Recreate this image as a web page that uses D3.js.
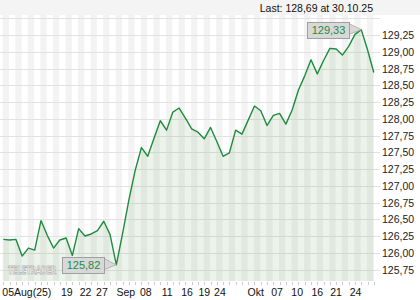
<!DOCTYPE html>
<html>
<head>
<meta charset="utf-8">
<script src="https://cdn.jsdelivr.net/npm/d3@7"></script>
<style>
  html, body { margin: 0; padding: 0; background: #ffffff; }
  svg { display: block; font-family: "Liberation Sans", Arial, sans-serif; }
</style>
</head>
<body>
<svg id="chart" width="420" height="300"></svg>
<script>
// ---- data ----
const prices = [
  126.20, 126.19, 126.20, 125.95, 126.07, 126.04, 126.48, 126.26, 126.07, 126.19,
  126.22, 125.96, 126.36, 126.25, 126.28, 126.33, 126.47, 126.27, 125.82, 126.29,
  126.79, 127.23, 127.57, 127.44, 127.71, 127.97, 127.83, 128.10, 128.16, 128.01,
  127.85, 127.80, 127.70, 127.87, 127.66, 127.44, 127.49, 127.83, 127.77, 127.98,
  128.19, 128.12, 127.90, 128.05, 128.08, 127.92, 128.13, 128.43, 128.64, 128.88,
  128.67, 128.87, 129.05, 129.04, 128.95, 129.08, 129.26, 129.33, 129.03, 128.69
];
const xTickLabels = ["05Aug(25)", "19", "22", "27", "Sep", "08", "11", "16", "19", "24",
                     "Okt", "07", "10", "16", "21", "24"];
const xTickPos = [0, 10.1, 13.1, 15.7, 19.5, 22.7, 26.1, 29.25, 32, 34.5,
                  40.2, 43.6, 46.8, 50, 53, 56.1];
const yTickValues = [125.75, 126.00, 126.25, 126.50, 126.75, 127.00, 127.25, 127.50,
                     127.75, 128.00, 128.25, 128.50, 128.75, 129.00, 129.25];
const yGridValues = yTickValues.concat([129.50]);
const lastText = "Last: 128,69 at 30.10.25";
const minLabel = "125,82";
const maxLabel = "129,33";

// ---- layout ----
const svg = d3.select("#chart");
const plotLeft = 0, plotRight = 376, plotTop = 15, plotBottom = 281;
const x = d3.scaleLinear().domain([0, prices.length - 1]).range([3.3, 373.8]);
const y = d3.scaleLinear().domain([125.75, 129.25]).range([269.5, 35]);
const fmt = v => d3.format(".2f")(v).replace(".", ",");

// header band
svg.append("rect").attr("x", 0).attr("y", 0).attr("width", 420).attr("height", plotTop)
  .attr("fill", "#f4f4f4");
svg.append("text").attr("x", 373).attr("y", 11.5).attr("text-anchor", "end")
  .attr("font-size", 10.5).attr("fill", "#111").text(lastText);

// striped background (one column per data point)
const stripes = svg.append("g");
stripes.selectAll("rect").data(d3.range(0, prices.length, 2)).join("rect")
  .attr("x", d => x(d) - 0.6)
  .attr("y", plotTop)
  .attr("width", x(1) - x(0))
  .attr("height", plotBottom - plotTop)
  .attr("fill", "#f3f3f3");

// horizontal grid lines
svg.append("g").selectAll("line").data(yGridValues).join("line")
  .attr("x1", plotLeft).attr("x2", 380)
  .attr("y1", d => Math.round(y(d)) + 0.5).attr("y2", d => Math.round(y(d)) + 0.5)
  .attr("stroke", "#e2e2e2").attr("stroke-width", 1);

// right axis labels
svg.append("g").selectAll("text").data(yTickValues).join("text")
  .attr("x", 382).attr("y", d => Math.round(y(d)) + 0.5)
  .attr("dy", "0.35em")
  .attr("font-size", 10.5).attr("fill", "#222")
  .text(d => fmt(d));

// bottom small ticks (one per data point)
svg.append("g").selectAll("line").data(d3.range(prices.length)).join("line")
  .attr("x1", d => Math.round(x(d)) + 0.5).attr("x2", d => Math.round(x(d)) + 0.5)
  .attr("y1", plotBottom + 1).attr("y2", plotBottom + 4)
  .attr("stroke", "#cccccc");

// bottom labels
svg.append("g").selectAll("text").data(xTickLabels).join("text")
  .attr("x", (d, i) => i === 0 ? x(xTickPos[i]) - 1 : x(xTickPos[i]))
  .attr("y", 296)
  .attr("text-anchor", (d, i) => i === 0 ? "start" : "middle")
  .attr("font-size", 10.5).attr("fill", "#111")
  .text(d => d);

// area + line
svg.append("clipPath").attr("id", "plotclip").append("rect")
  .attr("x", plotLeft).attr("y", plotTop).attr("width", plotRight - plotLeft).attr("height", plotBottom - plotTop);
const area = d3.area().x((d, i) => x(i)).y0(plotBottom).y1(d => y(d));
const line = d3.line().x((d, i) => x(i)).y(d => y(d));
svg.append("path").datum(prices).attr("d", area)
  .attr("fill", "rgb(60,140,60)").attr("fill-opacity", 0.1)
  .attr("clip-path", "url(#plotclip)");
svg.append("path").datum(prices).attr("d", line)
  .attr("fill", "none").attr("stroke", "#1e8c3c").attr("stroke-width", 1.4)
  .attr("stroke-linejoin", "round");

// watermark logo (small, stretched vertically)
svg.append("text")
  .attr("transform", "translate(8,274) scale(1,1.45)")
  .attr("font-family", "DejaVu Sans, sans-serif").attr("font-weight", "bold")
  .attr("font-size", 7).attr("letter-spacing", -0.2)
  .attr("fill", "#ffffff").attr("stroke", "#b8b8b8").attr("stroke-width", 0.6)
  .text("TELETRADER");

// min / max callouts
function callout(idx, label) {
  const tx = x(idx), ty = y(prices[idx]);
  const bw = 42, bh = 16;
  const bx = tx - 12 - bw, by = ty - bh / 2;
  const g = svg.append("g");
  g.append("path")
    .attr("d", `M${bx + bw - 1},${by + 1.5} L${tx},${ty} L${bx + bw - 1},${by + bh - 3} Z`)
    .attr("fill", "#d8d8d8").attr("stroke", "#a8a8a8").attr("stroke-width", 0.8);
  g.append("rect").attr("x", Math.round(bx) + 0.5).attr("y", Math.round(by) + 0.5)
    .attr("width", bw).attr("height", bh)
    .attr("fill", "#d8d8d8").attr("stroke", "#a0a0a0");
  g.append("text").attr("x", Math.round(bx) + 0.5 + bw / 2).attr("y", Math.round(by) + 0.5 + bh / 2)
    .attr("dy", "0.36em").attr("text-anchor", "middle")
    .attr("font-size", 11).attr("fill", "#238b45").text(label);
}
const minIdx = d3.minIndex(prices), maxIdx = d3.maxIndex(prices);
callout(minIdx, minLabel);
callout(maxIdx, maxLabel);
</script>
</body>
</html>
